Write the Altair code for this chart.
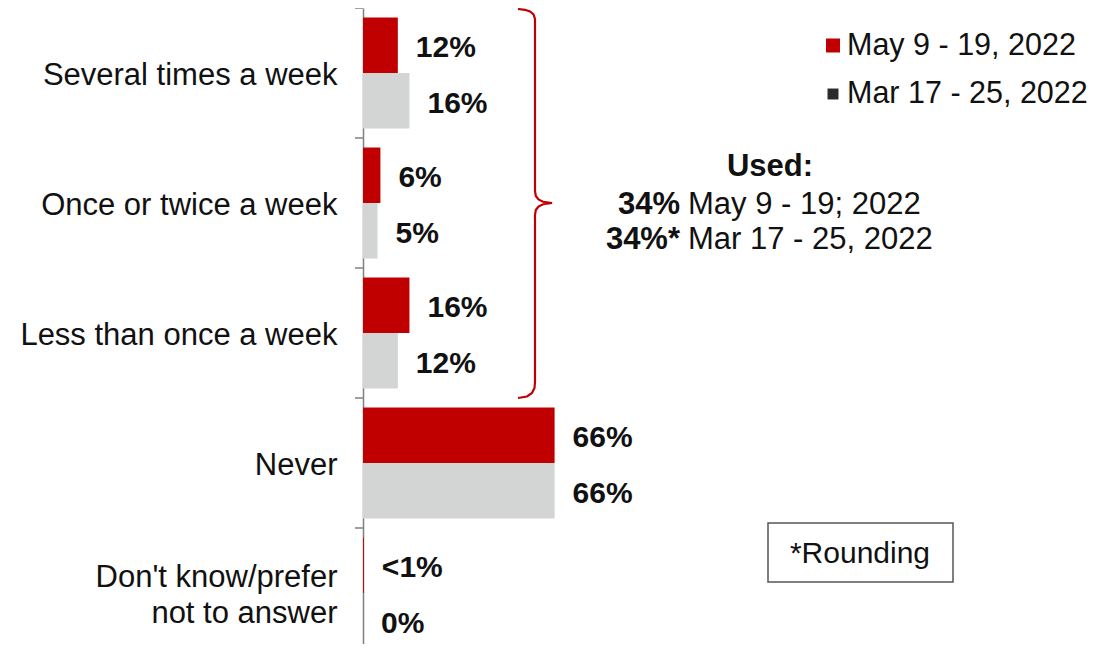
import altair as alt
import pandas as pd

# ---------------- data ----------------
categories = [
    "Several times a week",
    "Once or twice a week",
    "Less than once a week",
    "Never",
    "Don't know/prefer|not to answer",
]
series = ["May 9 - 19, 2022", "Mar 17 - 25, 2022"]
may_values = [12, 6, 16, 66, 0.3]
mar_values = [16, 5, 12, 66, 0]
may_labels = ["12%", "6%", "16%", "66%", "<1%"]
mar_labels = ["16%", "5%", "12%", "66%", "0%"]
colors = ["#C00000", "#D3D5D4"]

# brace outline (page pixels) around the first three categories
brace_x = [518, 525, 530, 533.5, 535, 535, 535, 535.8, 538.5, 543, 552,
           543, 538.5, 535.8, 535, 535, 534.5, 532, 527, 518]
brace_y = [9, 9.8, 11.5, 14.5, 19, 24, 191, 196, 199.5, 201.8, 203,
           204.2, 206.5, 210, 215, 382, 388, 393, 396.5, 398]

rows = []
for i, c in enumerate(categories):
    rows.append(dict(cat=c, series=series[0], value=may_values[i], label=may_labels[i]))
    rows.append(dict(cat=c, series=series[1], value=mar_values[i], label=mar_labels[i]))
df = pd.DataFrame(rows)

FONT = "Liberation Sans"
W, H = 720, 636
OX, OY = 363, 8  # page position of the plot origin

yscale = alt.Scale(domain=categories, range=[0, 650], paddingInner=0.146, paddingOuter=0.073)
yaxis = alt.Axis(
    title=None, labelFontSize=31, labelFont=FONT, labelColor="#111111",
    labelPadding=26, ticks=False, domainColor="#808080", domainWidth=1.5,
    labelExpr="split(datum.label, '|')", labelLineHeight=36, labelLimit=400,
    labelAlign="right", labelBaseline="middle", grid=False,
    labelOffset=alt.condition("indexof(datum.value, '|') >= 0", alt.value(-15), alt.value(3)),
)
xscale = alt.Scale(domain=[0, 248], nice=False, zero=True)
yoff = alt.YOffset("series:N", scale=alt.Scale(domain=series, paddingInner=0, paddingOuter=0))

bars = alt.Chart(df).mark_bar().encode(
    y=alt.Y("cat:N", scale=yscale, axis=yaxis),
    yOffset=yoff,
    x=alt.X("value:Q", scale=xscale, axis=None),
    color=alt.Color("series:N", scale=alt.Scale(domain=series, range=colors), legend=None),
)

labels = alt.Chart(df).mark_text(
    align="left", baseline="middle", dx=18, dy=3, fontSize=30, fontWeight="bold",
    font=FONT, color="#111111",
).encode(
    y=alt.Y("cat:N", scale=yscale, axis=yaxis),
    yOffset=yoff,
    x=alt.X("value:Q", scale=xscale, axis=None),
    text="label:N",
)

ticks = alt.Chart(pd.DataFrame({"cat": categories})).mark_rule(
    yOffset=-9.5, color="#808080", strokeWidth=1.5
).encode(
    y=alt.Y("cat:N", scale=yscale, axis=yaxis, bandPosition=0),
    x=alt.value(-8), x2=alt.value(0),
)

one = pd.DataFrame({"k": [0]})


def txt(text, x, y, **kw):
    props = dict(font=FONT, fontSize=31, color="#111111", baseline="middle")
    props.update(kw)
    return alt.Chart(one).mark_text(text=text, **props).encode(
        x=alt.value(x - OX), y=alt.value(y - OY)
    )


leg_sq1 = alt.Chart(one).mark_square(size=196, color=colors[0], opacity=1).encode(
    x=alt.value(833 - OX), y=alt.value(45.5 - OY))
leg_sq2 = alt.Chart(one).mark_square(size=120, color="#2b2b2b", opacity=1).encode(
    x=alt.value(833 - OX), y=alt.value(94 - OY))
leg_t1 = txt(series[0], 847, 46, align="left", fontSize=30.5)
leg_t2 = txt(series[1], 847, 94, align="left", fontSize=30.5)

used = txt("Used:", 770, 167, align="center", fontWeight="bold")
l2a = txt("34%", 680, 205, align="right", fontWeight="bold")
l2b = txt("May 9 - 19; 2022", 688, 205, align="left")
l3a = txt("34%*", 680, 240, align="right", fontWeight="bold")
l3b = txt("Mar 17 - 25, 2022", 688, 240, align="left")

brace_df = pd.DataFrame({
    "i": list(range(len(brace_x))),
    "bx": [v - OX for v in brace_x],
    "by": [v - OY for v in brace_y],
})
brace = alt.Chart(brace_df).mark_line(color="#C00000", strokeWidth=2.2).encode(
    x=alt.X("bx:Q", scale=None),
    y=alt.Y("by:Q", scale=None),
    order=alt.Order("i:Q"),
)

box = alt.Chart(one).mark_rect(fill="white", stroke="#555555", strokeWidth=1.5).encode(
    x=alt.value(768 - OX), x2=alt.value(953 - OX),
    y=alt.value(523 - OY), y2=alt.value(582 - OY),
)
box_t = txt("*Rounding", 860, 554, align="center", fontSize=30)

chart = alt.layer(
    ticks, bars, labels, brace, leg_sq1, leg_sq2, leg_t1, leg_t2,
    used, l2a, l2b, l3a, l3b, box, box_t,
).properties(
    width=W, height=H,
    padding={"left": 355, "top": 0, "right": 6, "bottom": 0},
    autosize=alt.AutoSizeParams(type="none"),
    background="white",
).configure_view(stroke=None)

chart.save("out.html", embed_options={"renderer": "svg", "actions": False})
